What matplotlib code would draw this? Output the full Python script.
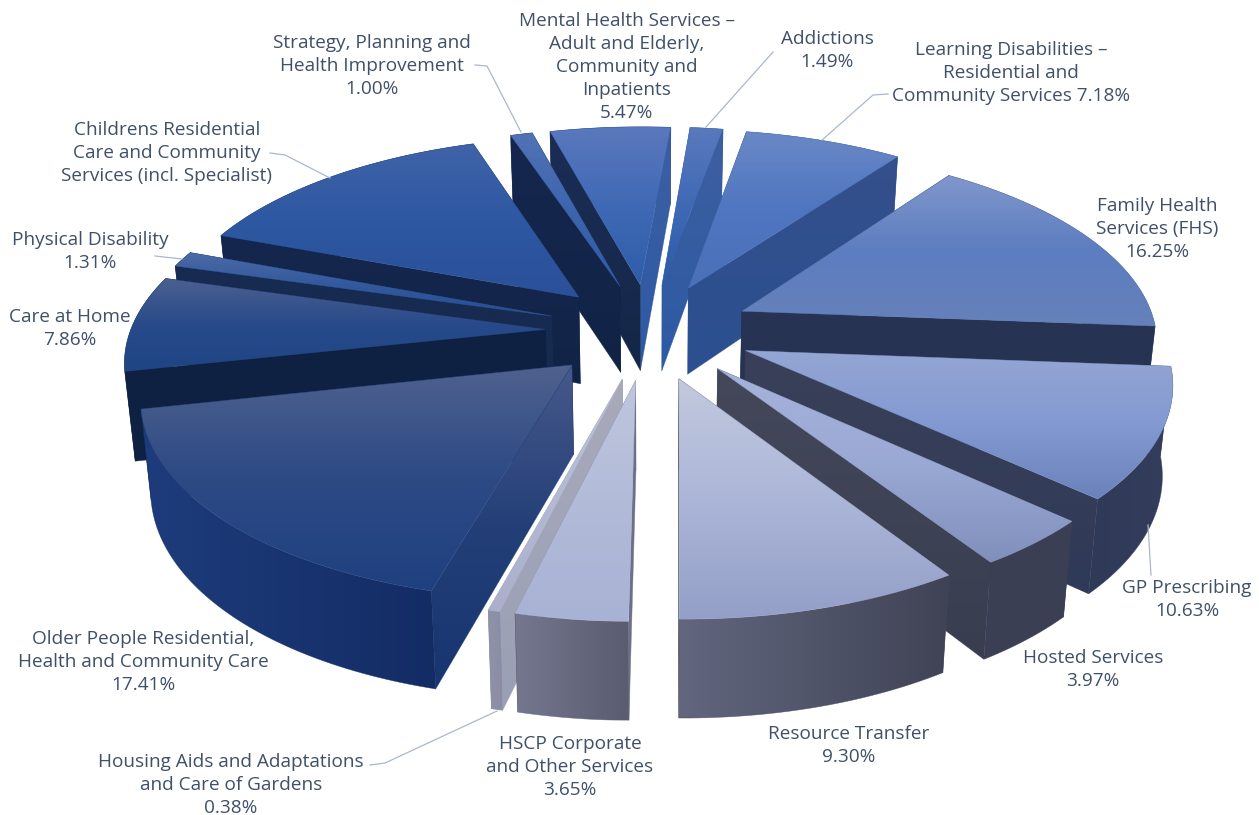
import numpy as np
import matplotlib
matplotlib.use("Agg")
import matplotlib.pyplot as plt
from matplotlib.colors import LinearSegmentedColormap
from matplotlib.patches import Polygon

plt.rcParams['font.family'] = ['Open Sans', 'DejaVu Sans']

# clockwise from the top of the pie
names = ["Addictions", "Learning Disabilities", "Family Health Services", "GP Prescribing",
         "Hosted Services", "Resource Transfer", "HSCP Corporate", "Housing Aids",
         "Older People", "Care at Home", "Physical Disability", "Childrens",
         "Strategy", "Mental Health"]
values = [1.49, 7.18, 16.25, 10.63, 3.97, 9.30, 3.65, 0.38, 17.41, 7.86, 1.31, 14.10, 1.00, 5.47]

# colours of each slice: top face, radial faces and rim
top_colors = [
    ["#5a79bd", "#3f69b5", "#2b5ba8"],
    ["#6a88c6", "#4f76c0", "#4a70b8"],
    ["#8197cc", "#5c7dc0", "#6681bb"],
    ["#94a6d3", "#8399d2", "#6a82bb"],
    ["#a6b3da", "#9aa8d4", "#8090bb"],
    ["#c2c9de", "#acb6d8", "#949fc8"],
    ["#bfc6de", "#b2bbd8", "#a8b2d4"],
    ["#bcc2d8", "#b4bad3", "#aab0ca"],
    ["#4f628e", "#2d4a85", "#1f4080"],
    ["#4c6090", "#284a8a", "#1f4585"],
    ["#4c6aa5", "#335a9e", "#274e95"],
    ["#3f63a8", "#2e58a2", "#2a5099"],
    ["#5272b5", "#3d65ae", "#2e5aa5"],
    ["#5a78bd", "#4069b5", "#2e5da8"],
]
face_start = [
    ("#3b62a8", "#2a5aa5"), ("#34508c", "#2b4f90"), ("#273352", "#273352"), ("#3a4058", "#2f3a58"),
    ("#44485a", "#383d50"), ("#4d5064", "#4d5064"), ("#6c7088", "#6c7088"), ("#a8aabb", "#9a9fb5"),
    ("#46598a", "#243f78", "#173570"), ("#0f2142", "#0f2142"), ("#172a50", "#172a50"), ("#15274e", "#112345"),
    ("#15274e", "#112345"), ("#1b2d55", "#152748"),
]
face_end = [
    ("#3d5f9f", "#2d5aa5"), ("#34508c", "#2b4f90"), ("#273352", "#273352"), ("#3a4058", "#2f3a58"),
    ("#44485a", "#383d50"), ("#4d5064", "#4d5064"), ("#6c7088", "#6c7088"), ("#8a8da5", "#8a8da5"),
    ("#14264d", "#14264d"), ("#0f2142", "#0f2142"), ("#172a50", "#172a50"), ("#15274e", "#15274e"),
    ("#15274e", "#15274e"), ("#3d5fa3", "#2d5aa5"),
]
rim_colors = [
    ("#3a5a9a", "#3a5a9a"), ("#3a5a95", "#3a5a95"), ("#4a5a85", "#4a5a85"), ("#2f3a58", "#343e5c"),
    ("#3a3f55", "#3c4054"), ("#62667e", "#404355"), ("#74778e", "#5a5d70"), ("#8f92a8", "#8a8da5"),
    ("#1e3c7c", "#132c64"), ("#0f2142", "#0f2142"), ("#14264d", "#14264d"), ("#14264d", "#14264d"),
    ("#14264d", "#14264d"), ("#14264d", "#14264d"),
]

# label lines, anchor x and y of the first line
label_text = [
    ["Addictions", "1.49%"],
    ["Learning Disabilities –", "Residential and", "Community Services 7.18%"],
    ["Family Health", "Services (FHS)", "16.25%"],
    ["GP Prescribing", "10.63%"],
    ["Hosted Services", "3.97%"],
    ["Resource Transfer", "9.30%"],
    ["HSCP Corporate", "and Other Services", "3.65%"],
    ["Housing Aids and Adaptations", "and Care of Gardens", "0.38%"],
    ["Older People Residential,", "Health and Community Care", "17.41%"],
    ["Care at Home", "7.86%"],
    ["Physical Disability", "1.31%"],
    ["Childrens Residential", "Care and Community", "Services (incl. Specialist)"],
    ["Strategy, Planning and", "Health Improvement", "1.00%"],
    ["Mental Health Services –", "Adult and Elderly,", "Community and", "Inpatients", "5.47%"],
]
label_x = [827, 1011, 1157, 1187, 1093, 849, 570, 231, 143, 70, 90, 167, 372, 627]
label_y = [39, 50, 206, 588, 658, 734, 744, 762, 639, 317, 240, 130, 43, 21]

leaders = [
    [(773, 52), (706, 127)],
    [(888, 94), (873, 95), (822, 140)],
    [(1148, 525), (1151, 575)],
    [(370, 765), (385, 763), (497, 711)],
    [(155, 256), (182, 259)],
    [(270, 153), (285, 155), (330, 178)],
    [(475, 65), (487, 66), (521, 132)],
]

# projection of the tilted pie
cx, cy = 649, 331
rx, ry = 415, 192
persp = 0.14
explode = 0.25
start = 4.8
height = 88
taper = 0.98


def project(x, y):
    w = 1 - persp * y
    return cx + rx * x / w, cy + ry * y / w


def thickness(y):
    return height * (1 + 0.1 * y)


def lower(px, py, y):
    # the underside sits lower and slightly narrower than the top
    return cx + (px - cx) * taper, py + thickness(y)


def fill(ax, pts, stops, vertical=True):
    # polygon filled with a linear gradient, clipped image plus a thin outline
    pts = np.array(pts)
    x0, y0 = pts.min(axis=0)
    x1, y1 = pts.max(axis=0)
    cmap = LinearSegmentedColormap.from_list("g", list(stops))
    g = np.linspace(0, 1, 128)
    g = g[:, None] if vertical else g[None, :]
    im = ax.imshow(g, cmap=cmap, extent=(x0, x1 + 0.01, y1 + 0.01, y0), aspect="auto",
                   interpolation="bilinear", zorder=2)
    patch = Polygon(pts, closed=True, transform=ax.transData, fc="none", ec="none")
    ax.add_patch(patch)
    im.set_clip_path(patch)
    edge = Polygon(pts, closed=True, fc="none", ec=stops[len(stops) // 2], lw=0.4, alpha=0.7, zorder=2)
    ax.add_patch(edge)


fig = plt.figure(figsize=(12.59, 8.15), dpi=100)
ax = fig.add_axes([0, 0, 1, 1])

total = sum(values)
angles = np.concatenate([[0], np.cumsum(values)]) / total * 360 + start

# draw the slices from the back of the pie to the front
mids = np.radians((angles[:-1] + angles[1:]) / 2)
order = np.argsort(-np.cos(mids))
for i in order:
    t = np.radians(np.linspace(angles[i], angles[i + 1], 60))
    ox, oy = explode * np.sin(mids[i]), -explode * np.cos(mids[i])
    xs, ys = ox + np.sin(t), oy - np.cos(t)

    ax_pt = project(ox, oy)
    ax_low = lower(ax_pt[0], ax_pt[1], oy)
    tx, ty = project(xs, ys)
    bx, by = lower(tx, ty, ys)

    top = [ax_pt] + list(zip(tx, ty))
    rim = list(zip(tx, ty)) + list(zip(bx[::-1], by[::-1]))
    side_a = [ax_pt, (tx[0], ty[0]), (bx[0], by[0]), ax_low]
    side_b = [ax_pt, (tx[-1], ty[-1]), (bx[-1], by[-1]), ax_low]

    faces = [(side_a, face_start[i], True), (side_b, face_end[i], True), (rim, rim_colors[i], False)]
    faces.sort(key=lambda f: np.mean(np.array(f[0])[:, 1]))
    for pts, stops, vert in faces:
        fill(ax, pts, stops, vert)
    fill(ax, top, top_colors[i], True)

for pts in leaders:
    px, py = zip(*pts)
    ax.plot(px, py, color="#a9b8cc", lw=0.9, zorder=3)

for lines, x, y in zip(label_text, label_x, label_y):
    for n, line in enumerate(lines):
        ax.text(x, y + n * 23, line, ha="center", va="center", fontsize=13.7, color="#3f5068", zorder=4)

ax.set_xlim(0, 1259)
ax.set_ylim(815, 0)
ax.axis("off")

fig.savefig("out.png", dpi=100)
